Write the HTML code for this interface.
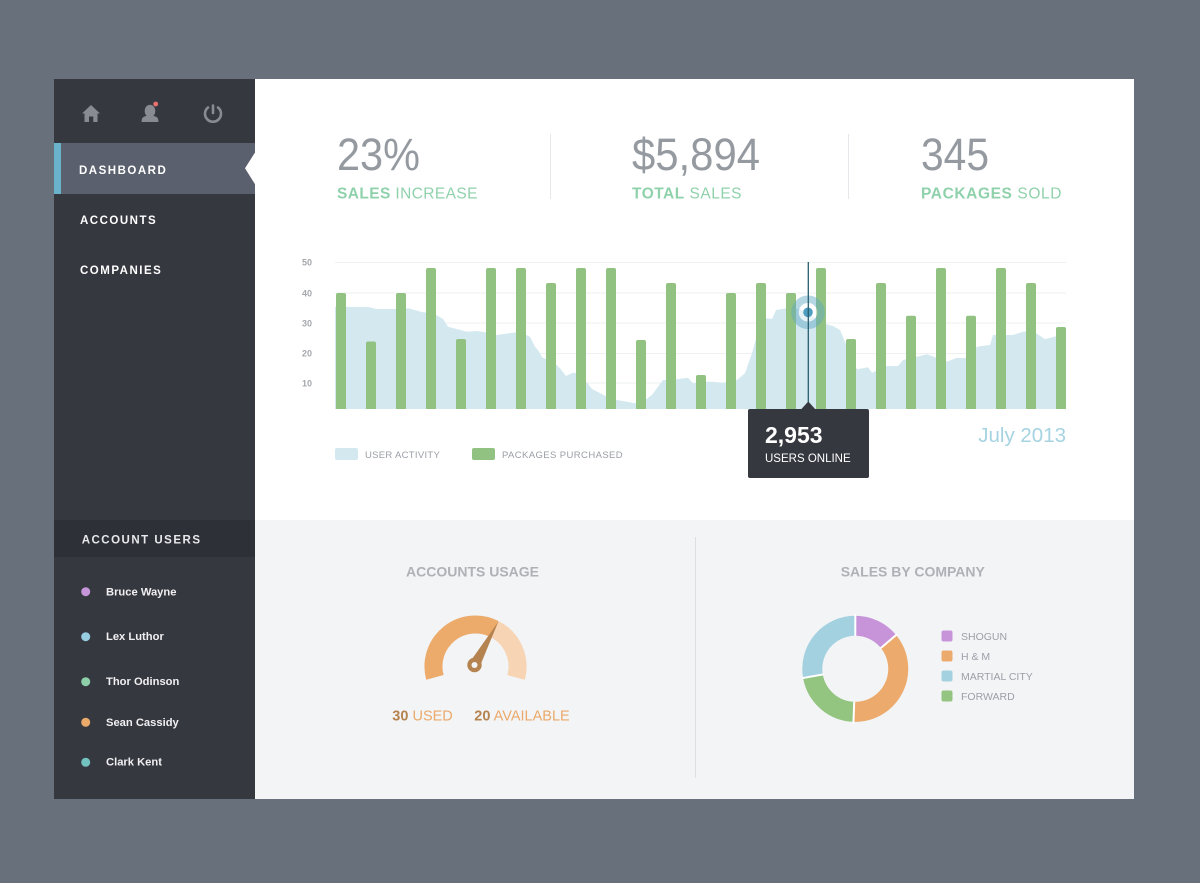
<!DOCTYPE html>
<html>
<head>
<meta charset="utf-8">
<style>
  html,body{margin:0;padding:0;background:#68717b;}
  svg{display:block;}
  text{font-family:"Liberation Sans", sans-serif;}
</style>
</head>
<body>
<svg width="1200" height="883" viewBox="0 0 1200 883" xmlns="http://www.w3.org/2000/svg">
  <!-- page bg -->
  <rect x="0" y="0" width="1200" height="883" fill="#68717b"/>

  <!-- main panels -->
  <rect x="255" y="79" width="879" height="441" fill="#ffffff"/>
  <rect x="255" y="520" width="879" height="279" fill="#f3f4f6"/>

  <!-- sidebar -->
  <rect x="54" y="79" width="201" height="720" fill="#363840"/>
  <rect x="54" y="143" width="201" height="51" fill="#5a606e"/>
  <rect x="54" y="143" width="7" height="51" fill="#6ab4cb"/>
  <polygon points="255.5,151.7 245,168.3 255.5,185" fill="#ffffff"/>

  <!-- sidebar icons -->
  <g fill="#888b92">
    <polygon points="82,113.5 91,105 100,113.5"/>
    <path d="M84.5 112 H97.5 V122 H93.3 V116.5 H89 V122 H84.5 Z"/>
  </g>
  <g fill="#888b92">
    <ellipse cx="150" cy="111" rx="5.3" ry="6.3"/>
    <path d="M141.5 122 Q141.5 116.5 146 116 L154 116 Q158.5 116.5 158.5 122 Z"/>
  </g>
  <circle cx="155.7" cy="104" r="2.4" fill="#e8706d"/>
  <g fill="none" stroke="#888b92" stroke-width="2.6" stroke-linecap="round">
    <path d="M208 107.5 A8 8 0 1 0 218 107.5"/>
    <line x1="213" y1="105.5" x2="213" y2="113"/>
  </g>

  <!-- nav text -->
  <g fill="#ffffff" font-weight="bold" font-size="11.5" letter-spacing="1.5">
    <text x="79" y="174">DASHBOARD</text>
    <text x="80" y="224">ACCOUNTS</text>
    <text x="80" y="274">COMPANIES</text>
  </g>

  <!-- account users -->
  <rect x="54" y="520" width="201" height="37" fill="#2e3038"/>
  <text x="81.7" y="543.7" fill="#e8e9eb" font-weight="bold" font-size="11.5" letter-spacing="1.5">ACCOUNT USERS</text>
  <circle cx="85.7" cy="591.7" r="4.5" fill="#c795d9"/>
  <circle cx="85.7" cy="636.7" r="4.5" fill="#96cde0"/>
  <circle cx="85.7" cy="681.7" r="4.5" fill="#8dd0aa"/>
  <circle cx="85.7" cy="722.3" r="4.5" fill="#eba96a"/>
  <circle cx="85.7" cy="762.3" r="4.5" fill="#72c2c0"/>
  <g fill="#f0f0f2" font-weight="bold" font-size="11.2">
    <text x="106" y="595.5">Bruce Wayne</text>
    <text x="106" y="640">Lex Luthor</text>
    <text x="106" y="685">Thor Odinson</text>
    <text x="106" y="726">Sean Cassidy</text>
    <text x="106" y="765.7">Clark Kent</text>
  </g>

  <!-- stats -->
  <g fill="#959aa1" font-size="45">
    <text x="337" y="170" textLength="83" lengthAdjust="spacingAndGlyphs">23%</text>
    <text x="632" y="170" textLength="128" lengthAdjust="spacingAndGlyphs">$5,894</text>
    <text x="921" y="170" textLength="68" lengthAdjust="spacingAndGlyphs">345</text>
  </g>
  <g fill="#8fd1ab" font-size="15.5">
    <text x="337" y="198.3" letter-spacing="0.4"><tspan font-weight="bold">SALES</tspan> INCREASE</text>
    <text x="632" y="198.3" letter-spacing="0.5"><tspan font-weight="bold">TOTAL</tspan> SALES</text>
    <text x="921" y="198.3" letter-spacing="0.6"><tspan font-weight="bold">PACKAGES</tspan> SOLD</text>
  </g>
  <line x1="550.5" y1="134" x2="550.5" y2="199" stroke="#e5e7ea" stroke-width="1"/>
  <line x1="848.5" y1="134" x2="848.5" y2="199" stroke="#e5e7ea" stroke-width="1"/>

  <!-- chart gridlines -->
  <g stroke="#eef0f2" stroke-width="1">
    <line x1="335" y1="262.5" x2="1066" y2="262.5"/>
    <line x1="335" y1="293" x2="1066" y2="293"/>
    <line x1="335" y1="323" x2="1066" y2="323"/>
    <line x1="335" y1="353.5" x2="1066" y2="353.5"/>
    <line x1="335" y1="383" x2="1066" y2="383"/>
  </g>
  <g fill="#a4a7ac" font-size="9" font-weight="bold">
    <text x="302" y="265.5">50</text>
    <text x="302" y="296.5">40</text>
    <text x="302" y="326.5">30</text>
    <text x="302" y="356.5">20</text>
    <text x="302" y="386.5">10</text>
  </g>

  <!-- user activity area -->
  <path fill="#d3e8ef" d="M335 306.7 L368 307 L376.7 309 L403 309 L408 308.3 L423 312.3 L433 313 L443 319 L448 326.7 L467 331.7 L477 331 L490 333 L497 335 L520 331.7 L530 336.7 L535 346.7 L538 350 L542 357.3 L553 361.7 L560 368.3 L566 376 L572.7 372.7 L577 373.3 L587 382.7 L592 389 L607 396.7 L617 400 L635 403.3 L645 400 L652 395 L663 380 L677 379.3 L688 377.7 L693 383.3 L707 381.7 L712 381.7 L723 382.7 L737 380 L745 373.3 L752 353.3 L757 335 L765 318.3 L772 319 L776 310 L787 308.3 L800 309 L815 318 L823 323.3 L833 326 L840 330 L847 346.7 L857 369.3 L868 367.3 L872 372.7 L887 366 L898 366 L903 360 L917 356.7 L927 354.3 L947 361.7 L957 357.7 L965 358.3 L977 346.7 L990 345 L993 335 L1013 335 L1023 331.7 L1033 331 L1045 339.3 L1057 336 L1066 333 L1066 409 L335 409 Z"/>

  <!-- bars -->
  <g fill="#92c281">
    <path d="M336 409 V295 Q336 293 338 293 H344 Q346 293 346 295 V409 Z"/>
    <path d="M366 409 V343.5 Q366 341.5 368 341.5 H374 Q376 341.5 376 343.5 V409 Z"/>
    <path d="M396 409 V295 Q396 293 398 293 H404 Q406 293 406 295 V409 Z"/>
    <path d="M426 409 V270 Q426 268 428 268 H434 Q436 268 436 270 V409 Z"/>
    <path d="M456 409 V341 Q456 339 458 339 H464 Q466 339 466 341 V409 Z"/>
    <path d="M486 409 V270 Q486 268 488 268 H494 Q496 268 496 270 V409 Z"/>
    <path d="M516 409 V270 Q516 268 518 268 H524 Q526 268 526 270 V409 Z"/>
    <path d="M546 409 V285 Q546 283 548 283 H554 Q556 283 556 285 V409 Z"/>
    <path d="M576 409 V270 Q576 268 578 268 H584 Q586 268 586 270 V409 Z"/>
    <path d="M606 409 V270 Q606 268 608 268 H614 Q616 268 616 270 V409 Z"/>
    <path d="M636 409 V342 Q636 340 638 340 H644 Q646 340 646 342 V409 Z"/>
    <path d="M666 409 V285 Q666 283 668 283 H674 Q676 283 676 285 V409 Z"/>
    <path d="M696 409 V377 Q696 375 698 375 H704 Q706 375 706 377 V409 Z"/>
    <path d="M726 409 V295 Q726 293 728 293 H734 Q736 293 736 295 V409 Z"/>
    <path d="M756 409 V285 Q756 283 758 283 H764 Q766 283 766 285 V409 Z"/>
    <path d="M786 409 V295 Q786 293 788 293 H794 Q796 293 796 295 V409 Z"/>
    <path d="M816 409 V270 Q816 268 818 268 H824 Q826 268 826 270 V409 Z"/>
    <path d="M846 409 V341 Q846 339 848 339 H854 Q856 339 856 341 V409 Z"/>
    <path d="M876 409 V285 Q876 283 878 283 H884 Q886 283 886 285 V409 Z"/>
    <path d="M906 409 V317.7 Q906 315.7 908 315.7 H914 Q916 315.7 916 317.7 V409 Z"/>
    <path d="M936 409 V270 Q936 268 938 268 H944 Q946 268 946 270 V409 Z"/>
    <path d="M966 409 V317.7 Q966 315.7 968 315.7 H974 Q976 315.7 976 317.7 V409 Z"/>
    <path d="M996 409 V270 Q996 268 998 268 H1004 Q1006 268 1006 270 V409 Z"/>
    <path d="M1026 409 V285 Q1026 283 1028 283 H1034 Q1036 283 1036 285 V409 Z"/>
    <path d="M1056 409 V329 Q1056 327 1058 327 H1064 Q1066 327 1066 329 V409 Z"/>
  </g>

  <!-- marker -->
  <circle cx="808" cy="312.3" r="9.5" fill="#ffffff" fill-opacity="0.45"/>
  <circle cx="808" cy="312.3" r="13" fill="none" stroke="#5aa6c4" stroke-opacity="0.45" stroke-width="7.5"/>
  <circle cx="808" cy="312.3" r="4.8" fill="#4d9dc0"/>
  <line x1="808.3" y1="262" x2="808.3" y2="403" stroke="#275d6f" stroke-width="1.3"/>

  <!-- tooltip -->
  <rect x="748" y="409" width="121" height="69" rx="2" fill="#363840"/>
  <polygon points="800.5,410 808.3,401.5 816,410" fill="#363840"/>
  <text x="765" y="443" fill="#ffffff" font-weight="bold" font-size="23">2,953</text>
  <text x="765" y="462" fill="#ffffff" font-size="11.5">USERS ONLINE</text>

  <text x="1066" y="442" text-anchor="end" fill="#a5d3e1" font-size="20.5">July 2013</text>

  <!-- legend -->
  <rect x="335" y="448" width="23" height="12" rx="2" fill="#d3e8ef"/>
  <text x="365" y="458" fill="#9a9ea6" font-size="9.5" letter-spacing="0.3">USER ACTIVITY</text>
  <rect x="472" y="448" width="23" height="12" rx="2" fill="#92c281"/>
  <text x="502" y="458" fill="#9a9ea6" font-size="9.5" letter-spacing="0.4">PACKAGES PURCHASED</text>

  <!-- bottom divider -->
  <line x1="695.5" y1="537" x2="695.5" y2="778" stroke="#dddfe3" stroke-width="1"/>

  <!-- accounts usage -->
  <text x="406" y="576.7" fill="#aeb1b6" font-weight="bold" font-size="14">ACCOUNTS USAGE</text>
  <path d="M434.9 677.4 A42 42 0 0 1 494.6 629.1" fill="none" stroke="#ecab6b" stroke-width="18"/>
  <path d="M494.6 629.1 A42 42 0 0 1 516.1 677.4" fill="none" stroke="#f6d4b4" stroke-width="18"/>
  <polygon points="479.3,667.7 498.3,621.7 469.7,662.3" fill="#b5834f"/>
  <circle cx="474.5" cy="665" r="7.2" fill="#b5834f"/>
  <circle cx="474.5" cy="665" r="3" fill="#f3f4f6"/>
  <text x="392.3" y="720.7" font-size="14.5" fill="#eba96a"><tspan font-weight="bold" fill="#b5834f">30</tspan> USED</text>
  <text x="474.3" y="720.7" font-size="14.5" fill="#eba96a"><tspan font-weight="bold" fill="#b5834f">20</tspan> AVAILABLE</text>

  <!-- sales by company -->
  <text x="840.7" y="576.7" fill="#aeb1b6" font-weight="bold" font-size="14">SALES BY COMPANY</text>
  <g fill="none" stroke-width="20">
    <path d="M855.3 625.8 A43 43 0 0 1 888.2 641.2" stroke="#c794da"/>
    <path d="M888.2 641.2 A43 43 0 0 1 853.8 711.8" stroke="#ecab6d"/>
    <path d="M853.8 711.8 A43 43 0 0 1 812.95 676.3" stroke="#93c480"/>
    <path d="M812.95 676.3 A43 43 0 0 1 855.3 625.8" stroke="#a3d1e0"/>
  </g>
  <g stroke="#ffffff" stroke-width="2">
    <line x1="855.3" y1="636" x2="855.3" y2="614"/>
    <line x1="880.6" y1="648.2" x2="897.2" y2="634.1"/>
    <line x1="854.2" y1="701.8" x2="853.4" y2="723.8"/>
    <line x1="823.3" y1="674.4" x2="802.1" y2="678.2"/>
  </g>
  <rect x="941.5" y="630.5" width="11" height="11" rx="2" fill="#c794da"/>
  <rect x="941.5" y="650.5" width="11" height="11" rx="2" fill="#ecab6d"/>
  <rect x="941.5" y="670.5" width="11" height="11" rx="2" fill="#a3d1e0"/>
  <rect x="941.5" y="690.5" width="11" height="11" rx="2" fill="#93c480"/>
  <g fill="#9b9fa7" font-size="10.5">
    <text x="961" y="639.8">SHOGUN</text>
    <text x="961" y="659.8">H &amp; M</text>
    <text x="961" y="679.8">MARTIAL CITY</text>
    <text x="961" y="699.8">FORWARD</text>
  </g>
</svg>
</body>
</html>
